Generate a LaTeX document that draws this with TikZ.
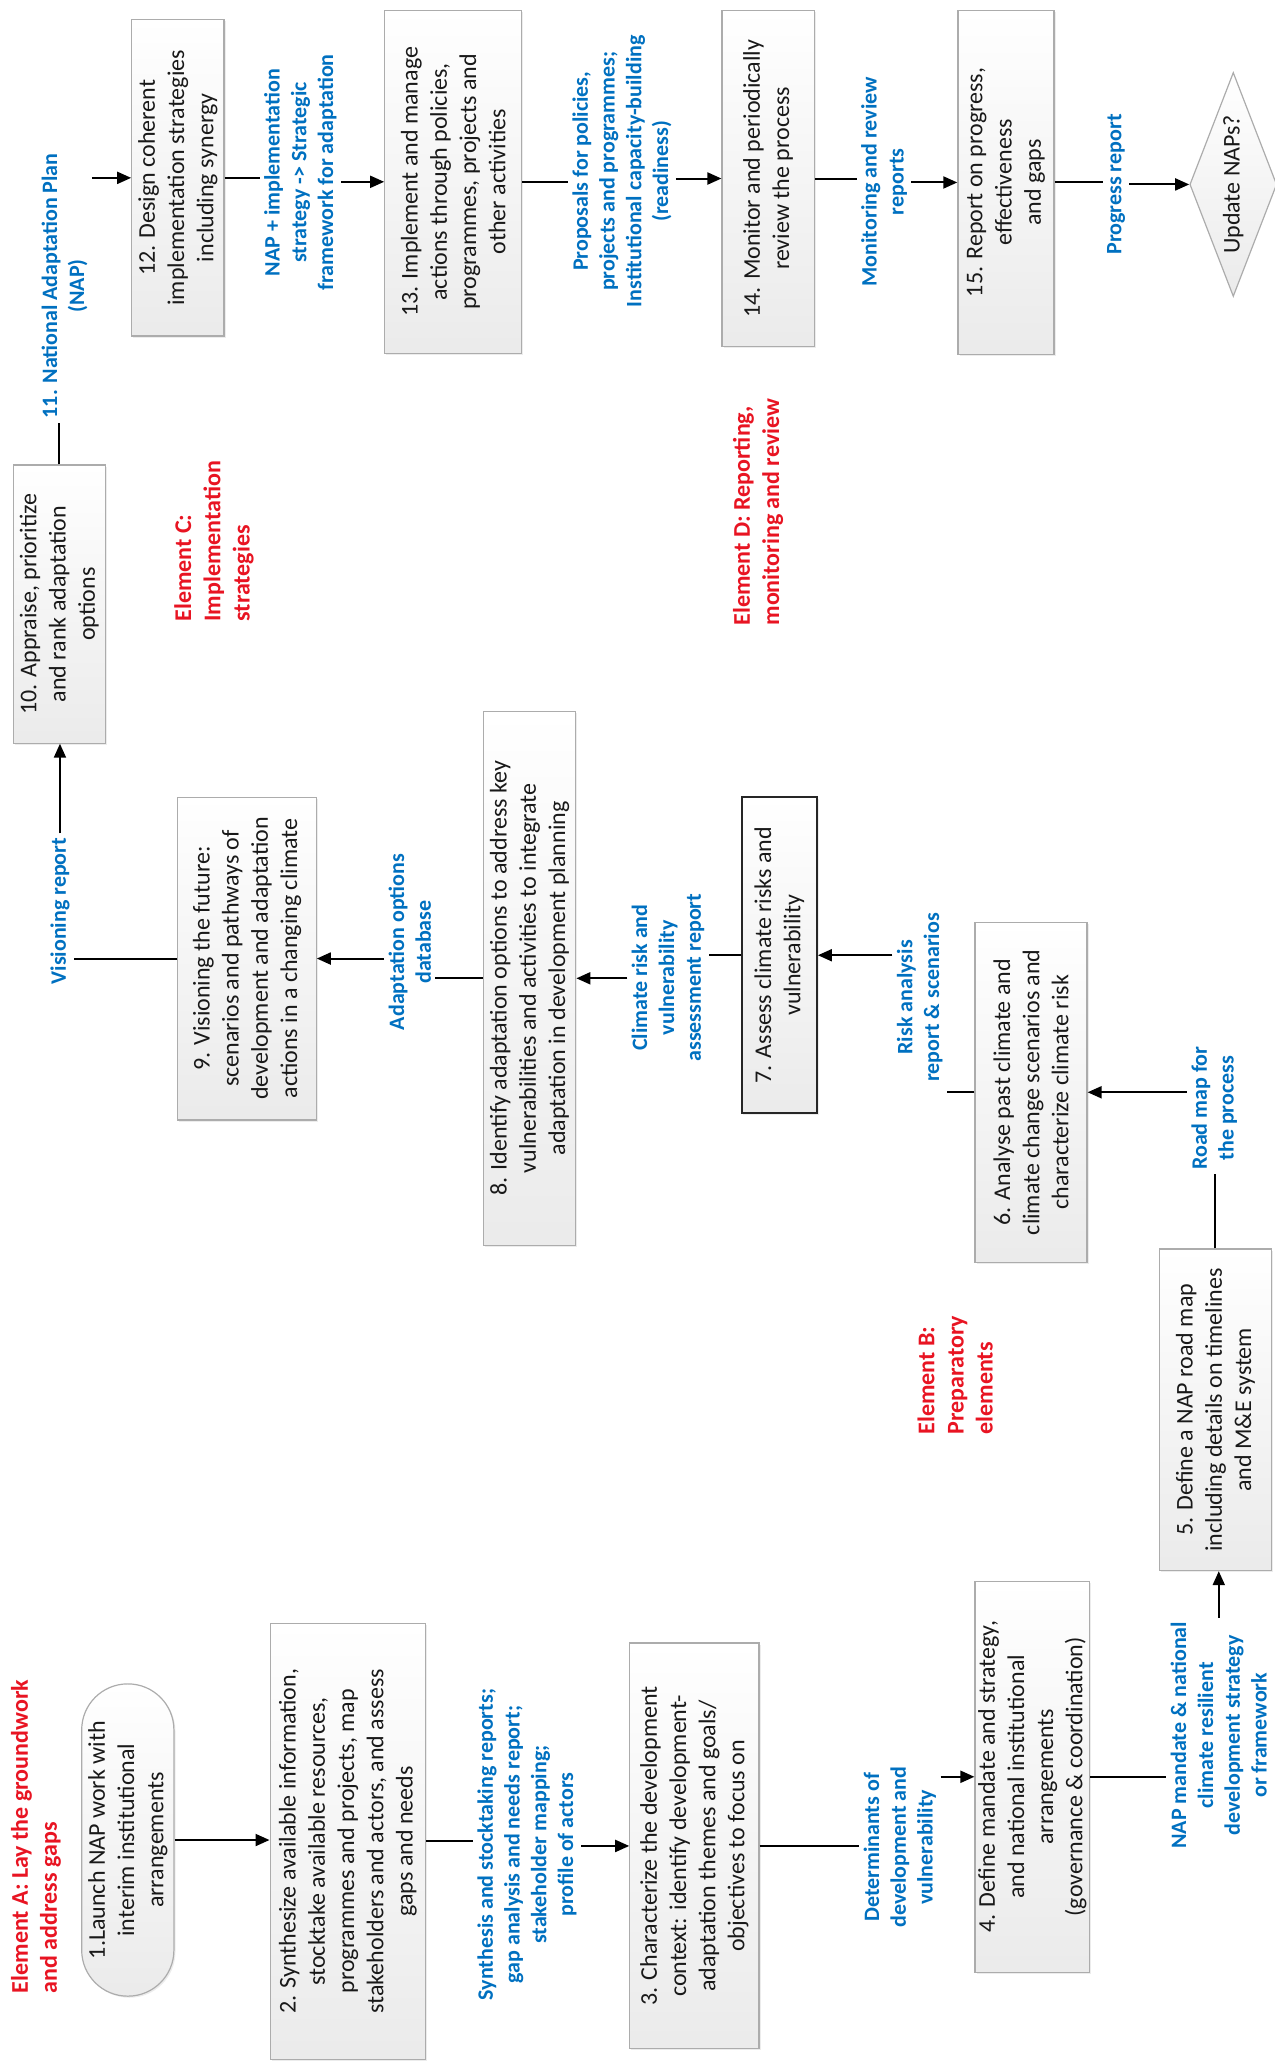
\documentclass[tikz,border=0pt]{standalone}
\usepackage{fontspec}
\setmainfont{Carlito}
\usetikzlibrary{arrows.meta, calc, shapes.geometric, shadows}
\definecolor{napblue}{RGB}{0,112,192}
\definecolor{napred}{RGB}{232,20,34}

\begin{document}
\begin{tikzpicture}[x=0.6588pt, y=0.6588pt,
    procbox/.style 2 args={draw=gray!65, line width=0.6pt, top color=white, bottom color=gray!16,
      align=center, inner sep=1pt, minimum width=#1*0.6588pt, minimum height=#2*0.6588pt,
      font=\fontsize{12}{14.6}\selectfont, text=black!90,
      drop shadow={shadow xshift=0.8pt, shadow yshift=-0.8pt, opacity=0.15}},
    decbox/.style={diamond, aspect=2.6, draw=gray!65, line width=0.6pt, top color=white,
      bottom color=gray!16, inner sep=0pt, minimum width=170*0.6588pt, minimum height=66*0.6588pt,
      font=\fontsize{12}{14.6}\selectfont, text=black!90},
    outlbl/.style={font=\bfseries\fontsize{11}{13.4}\selectfont, text=napblue, align=center, inner sep=2pt},
    elemlbl/.style={font=\bfseries\fontsize{12}{14.6}\selectfont, text=napred, align=left,
      inner sep=0pt, anchor=north west},
    flow/.style={draw=black, line width=1pt, -{Triangle[length=7pt, width=6pt]}},
    link/.style={draw=black, line width=1pt}]

  \useasboundingbox (0,0) rectangle (967,1568);

  \begin{scope}[rotate=90, transform shape]
    % Element A
    \node[elemlbl] (elA) at (55,-8) {Element A: Lay the groundwork\\and address gaps};
    \node[procbox={237}{70}, rounded corners=23pt] (b1) at (171.5,-97)
      {1.Launch NAP work with\\interim institutional\\arrangements};
    \node[procbox={331}{118}] (b2) at (170.5,-264)
      {2. Synthesize available information,\\stocktake available resources,\\programmes and projects, map\\stakeholders and actors, and assess\\gaps and needs};
    \node[outlbl] (lsyn) at (168,-400)
      {Synthesis and stocktaking reports;\\gap analysis and needs report;\\stakeholder mapping;\\profile of actors};
    \node[procbox={308}{98}] (b3) at (167,-527)
      {3. Characterize the development\\context: identify development-\\adaptation themes and goals/\\objectives to focus on};
    \node[outlbl] (ldet) at (166,-683) {Determinants of\\development and\\vulnerability};
    \node[procbox={297}{87}] (b4) at (219.5,-783.5)
      {4. Define mandate and strategy,\\and national institutional\\arrangements\\(governance \& coordination)};
    \node[outlbl] (lnap) at (251,-925)
      {NAP mandate \& national\\climate resilient\\development strategy\\or framework};

    % Element B
    \node[elemlbl] (elB) at (479,-696) {Element B:\\Preparatory\\elements};
    \node[procbox={244}{85}] (b5) at (498,-922.5)
      {5. Define a NAP road map\\including details on timelines\\and M\&E system};
    \node[outlbl] (lroad) at (727,-921.5) {Road map for\\the process};
    \node[procbox={258}{85}] (b6) at (739,-782.5)
      {6. Analyse past climate and\\climate change scenarios and\\characterize climate risk};
    \node[outlbl] (lrisk) at (811,-698) {Risk analysis\\report \& scenarios};
    \node[procbox={240}{57}, draw=black!85, line width=1pt] (b7) at (843,-591.5)
      {7. Assess climate risks and\\vulnerability};
    \node[outlbl] (lclim) at (826,-507) {Climate risk and\\vulnerability\\assessment report};
    \node[procbox={405}{70}] (b8) at (825.5,-402)
      {8. Identify adaptation options to address key\\vulnerabilities and activities to integrate\\adaptation in development planning};
    \node[outlbl] (lopt) at (853,-311) {Adaptation options\\database};
    \node[procbox={245}{105}] (b9) at (840.5,-187.5)
      {9. Visioning the future:\\scenarios and pathways of\\development and adaptation\\actions in a changing climate};
    \node[outlbl] (lvis) at (876.5,-45.5) {Visioning report};

    % Element C
    \node[elemlbl] (elC) at (1096,-132) {Element C:\\Implementation\\strategies};
    \node[procbox={211}{70}] (b10) at (1109.5,-45)
      {10. Appraise, prioritize\\and rank adaptation\\options};
    \node[outlbl] (l11) at (1351,-49) {11. National Adaptation Plan\\(NAP)};
    \node[procbox={240}{70}] (b12) at (1433,-135)
      {12. Design coherent\\implementation strategies\\including synergy};
    \node[outlbl] (lstrat) at (1437,-228)
      {NAP + implementation\\strategy -> Strategic\\framework for adaptation};
    \node[procbox={260}{104}] (b13) at (1430,-344)
      {13. Implement and manage\\actions through policies,\\programmes, projects and\\other activities};
    \node[outlbl] (lprop) at (1438,-472)
      {Proposals for policies,\\projects and programmes;\\Institutional capacity-building\\(readiness)};

    % Element D
    \node[elemlbl] (elD) at (1093,-556) {Element D: Reporting,\\monitoring and review};
    \node[procbox={255}{70}] (b14) at (1432.5,-583)
      {14. Monitor and periodically\\review the process};
    \node[outlbl] (lmon) at (1430,-671) {Monitoring and review\\reports};
    \node[procbox={261}{73}] (b15) at (1429.5,-763.5)
      {15. Report on progress,\\effectiveness\\and gaps};
    \node[outlbl] (lprog) at (1428,-847) {Progress report};
    \node[decbox] (dec) at (1428,-936) {Update NAPs?};

    % connectors
    \draw[flow] (b1.south) -- (b1.south |- b2.north);
    \draw[link] (b2.south) -- (b2.south |- lsyn.north);
    \draw[flow] (b3.north |- lsyn.south) -- (b3.north);
    \draw[link] (b3.south) -- (b3.south |- ldet.north);
    \draw[flow] (b4.north |- ldet.south) -- (b4.north);
    \draw[link] (b4.south) -- (b4.south |- lnap.north);
    \draw[flow] (lnap.east) -- (lnap.east -| b5.west);
    \draw[link] (b5.east) -- (b5.east -| lroad.west);
    \draw[flow] (b6.south |- lroad.north) -- (b6.south);
    \draw[link] (b6.north) -- (b6.north |- lrisk.south);
    \draw[flow] (b7.south |- lrisk.north) -- (b7.south);
    \draw[link] (b7.north) -- (b7.north |- lclim.south);
    \draw[flow] (b8.south |- lclim.north) -- (b8.south);
    \draw[link] (b8.north) -- (b8.north |- lopt.south);
    \draw[flow] (b9.south |- lopt.north) -- (b9.south);
    \draw[link] (b9.north) -- (b9.north |- lvis.south);
    \draw[flow] (lvis.east) -- (lvis.east -| b10.west);
    \draw[link] (b10.east) -- (b10.east -| l11.west);
    \draw[flow] (b12.north |- l11.south) -- (b12.north);
    \draw[link] (b12.south) -- (b12.south |- lstrat.north);
    \draw[flow] (b13.north |- lstrat.south) -- (b13.north);
    \draw[link] (b13.south) -- (b13.south |- lprop.north);
    \draw[flow] (b14.north |- lprop.south) -- (b14.north);
    \draw[link] (b14.south) -- (b14.south |- lmon.north);
    \draw[flow] (b15.north |- lmon.south) -- (b15.north);
    \draw[link] (b15.south) -- (b15.south |- lprog.north);
    \draw[flow] (dec.north |- lprog.south) -- (dec.north);
  \end{scope}
\end{tikzpicture}
\end{document}
